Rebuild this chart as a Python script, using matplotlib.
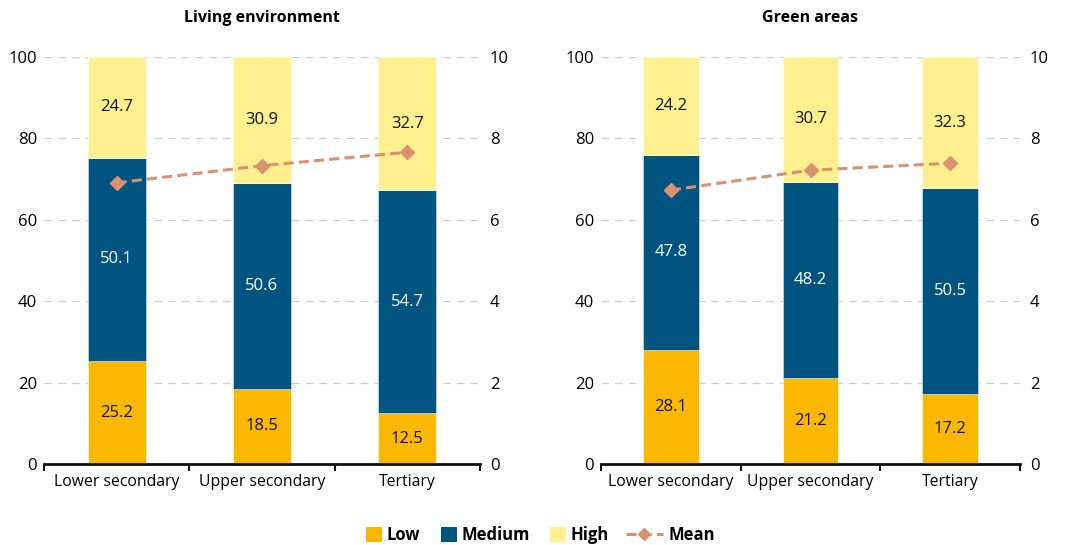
import matplotlib
matplotlib.use("Agg")
import matplotlib.pyplot as plt
from matplotlib.lines import Line2D
from matplotlib.patches import Patch
import numpy as np

plt.rcParams['font.family'] = ['Open Sans', 'DejaVu Sans']

categories = ["Lower secondary", "Upper secondary", "Tertiary"]
titles = ["Living environment", "Green areas"]
low = [[25.2, 18.5, 12.5], [28.1, 21.2, 17.2]]
medium = [[50.1, 50.6, 54.7], [47.8, 48.2, 50.5]]
high = [[24.7, 30.9, 32.7], [24.2, 30.7, 32.3]]
mean = [[6.91, 7.33, 7.66], [6.73, 7.22, 7.39]]

c_low = "#FBB800"
c_med = "#00547F"
c_high = "#FEF08E"
c_mean = "#DA9170"

FS = 12
W, H = 1088, 545

fig = plt.figure(figsize=(W/100, H/100), dpi=100)
rects = [[44/W, 1-464/H, 436/W, 407/H],
         [601/W, 1-464/H, 419/W, 407/H]]

for k in range(2):
    ax = fig.add_axes(rects[k])
    x = np.arange(len(categories))
    w = 0.4
    ax.bar(x, low[k], w, color=c_low, edgecolor="#FFF6D0", linewidth=0.6, zorder=2)
    ax.bar(x, medium[k], w, bottom=low[k], color=c_med, edgecolor="#BFD3E0", linewidth=0.6, zorder=2)
    b2 = np.array(low[k]) + np.array(medium[k])
    ax.bar(x, high[k], w, bottom=b2, color=c_high, edgecolor="#FFFBE0", linewidth=0.6, zorder=2)
    for i in range(len(categories)):
        ax.text(x[i], low[k][i]/2, f"{low[k][i]:.1f}", ha="center", va="center", fontsize=FS, color="#111111", zorder=4)
        ax.text(x[i], low[k][i] + medium[k][i]/2, f"{medium[k][i]:.1f}", ha="center", va="center", fontsize=FS, color="white", zorder=4)
        ax.text(x[i], b2[i] + high[k][i]/2, f"{high[k][i]:.1f}", ha="center", va="center", fontsize=FS, color="#111111", zorder=4)
    ax.set_xlim(-0.5, 2.5)
    ax.set_ylim(0, 100)
    ax.set_yticks([0, 20, 40, 60, 80, 100])
    ax.yaxis.grid(True, linestyle=(0, (6, 5)), color="#CCCCCC", linewidth=0.9, zorder=0)
    ax.set_axisbelow(True)
    for s in ["top", "right", "left"]:
        ax.spines[s].set_visible(False)
    ax.spines["bottom"].set_linewidth(2.0)
    ax.spines["bottom"].set_color("#111111")
    ax.tick_params(axis="y", length=0, labelsize=FS, pad=5)
    ax.set_xticks([-0.5, 0.5, 1.5, 2.5])
    ax.set_xticklabels([])
    ax.set_xticks(x, minor=True)
    ax.set_xticklabels(categories, minor=True, fontsize=11.3)
    ax.tick_params(axis="x", which="major", length=5, width=1.5, color="#111111")
    ax.tick_params(axis="x", which="minor", length=0, pad=7)
    for t in ax.xaxis.get_major_ticks():
        t.tick1line.set_marker(3)
    ax.set_title(titles[k], fontsize=11.5, fontweight="bold", pad=25)

    ax2 = ax.twinx()
    ax2.plot(x, mean[k], color=c_mean, linestyle=(0, (3.3, 1.7)), linewidth=2.2,
             marker="D", markersize=7, zorder=5)
    ax2.set_ylim(0, 10)
    ax2.set_yticks([0, 2, 4, 6, 8, 10])
    for s in ["top", "right", "left", "bottom"]:
        ax2.spines[s].set_visible(False)
    ax2.tick_params(axis="y", length=0, labelsize=FS, pad=7)

h1 = [Patch(facecolor=c_low, edgecolor="none"),
      Patch(facecolor=c_med, edgecolor="none"),
      Patch(facecolor=c_high, edgecolor="none")]
l1 = ["Low", "Medium", "High"]
yl = 1 - 535/H
leg1 = fig.legend(h1, l1, loc="center left", bbox_to_anchor=(366/W, yl), ncol=3, frameon=False,
                  prop={"weight": "bold", "size": 12}, handlelength=0.96, handleheight=0.96,
                  columnspacing=1.2, handletextpad=0.3, borderpad=0, borderaxespad=0)
h2 = [Line2D([0], [0], color=c_mean, linestyle=(0, (3.3, 1.7)), linewidth=2.2, marker="D", markersize=6.5)]
leg2 = fig.legend(h2, ["Mean"], loc="center left", bbox_to_anchor=(626/W, yl), frameon=False,
                  prop={"weight": "bold", "size": 12}, handlelength=2.2,
                  handletextpad=0.35, borderpad=0, borderaxespad=0)

fig.savefig("out.png", dpi=100)
